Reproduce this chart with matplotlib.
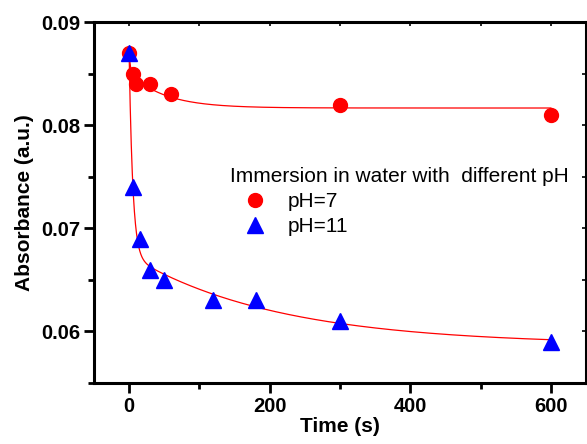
import numpy as np
import matplotlib.pyplot as plt
from matplotlib.ticker import MultipleLocator

plt.rcParams['font.family'] = ['Liberation Sans', 'DejaVu Sans']

# ---- data ----
T_PH7 = [0, 5, 10, 30, 60, 300, 600]
A_PH7 = [0.087, 0.085, 0.084, 0.084, 0.083, 0.082, 0.081]

T_PH11 = [0, 5, 15, 30, 50, 120, 180, 300, 600]
A_PH11 = [0.087, 0.074, 0.069, 0.066, 0.065, 0.063, 0.063, 0.061, 0.059]

LEGEND_TITLE = "Immersion in water with  different pH"
LABELS = ["pH=7", "pH=11"]


def fit_two_exp(t, y, tau1_grid, tau2_grid):
    # y = y0 + A1*exp(-t/tau1) + A2*exp(-t/tau2), taus by grid search
    t = np.asarray(t, float)
    y = np.asarray(y, float)
    best = None
    for t1 in tau1_grid:
        for t2 in tau2_grid:
            M = np.column_stack([np.ones_like(t), np.exp(-t / t1), np.exp(-t / t2)])
            coef, *_ = np.linalg.lstsq(M, y, rcond=None)
            if coef[1] < 0 or coef[2] < 0:
                continue
            err = np.sum((M @ coef - y) ** 2)
            if best is None or err < best[0]:
                best = (err, t1, t2, coef)
    _, t1, t2, c = best
    return lambda x: c[0] + c[1] * np.exp(-x / t1) + c[2] * np.exp(-x / t2)


fit7 = fit_two_exp(T_PH7, A_PH7, np.linspace(1, 8, 30), np.linspace(25, 50, 30))
fit11 = fit_two_exp(T_PH11, A_PH11, np.linspace(1, 10, 40), np.linspace(50, 600, 80))

fig = plt.figure(figsize=(5.87, 4.44), dpi=100)
ax = fig.add_axes([94 / 587, 1 - 383 / 444, 492 / 587, 361 / 444])

tt = np.linspace(0, 600, 1201)
ax.plot(tt, fit7(tt), color='red', lw=0.9, zorder=1)
ax.plot(tt, fit11(tt), color='red', lw=0.9, zorder=1)

ax.plot(T_PH7, A_PH7, 'o', color='red', ms=10, mec='red', label=LABELS[0], zorder=3)
ax.plot(T_PH11, A_PH11, '^', color='blue', ms=12, mec='blue', label=LABELS[1], zorder=3)

ax.set_xlim(-50, 650)
ax.set_ylim(0.055, 0.09)
ax.xaxis.set_major_locator(MultipleLocator(200))
ax.xaxis.set_minor_locator(MultipleLocator(100))
ax.yaxis.set_major_locator(MultipleLocator(0.01))
ax.yaxis.set_minor_locator(MultipleLocator(0.005))
ax.set_yticks([0.06, 0.07, 0.08, 0.09])
ax.set_xticks([0, 200, 400, 600])

for s in ax.spines.values():
    s.set_linewidth(2.2)

ax.tick_params(which='major', direction='out', length=7, width=2, labelsize=14.5, pad=3)
ax.tick_params(which='minor', direction='out', length=4, width=2)
for lab in ax.get_xticklabels() + ax.get_yticklabels():
    lab.set_fontweight('bold')

# inward ticks on top and right, no labels
axt = ax.secondary_xaxis('top')
axt.xaxis.set_major_locator(MultipleLocator(200))
axt.xaxis.set_minor_locator(MultipleLocator(100))
axt.tick_params(which='both', direction='in', length=3, width=1.2, labeltop=False)
axr = ax.secondary_yaxis('right')
axr.yaxis.set_major_locator(MultipleLocator(0.01))
axr.yaxis.set_minor_locator(MultipleLocator(0.005))
axr.tick_params(which='both', direction='in', length=3, width=1.2, labelright=False)

ax.set_xlabel("Time (s)", fontsize=15, fontweight='bold', labelpad=1)
ax.set_ylabel("Absorbance (a.u.)", fontsize=15, fontweight='bold', labelpad=5)

leg = ax.legend(title=LEGEND_TITLE, loc='upper left', bbox_to_anchor=(0.256, 0.628),
                frameon=False, fontsize=15, title_fontsize=15,
                handletextpad=0.36, labelspacing=0.3, borderpad=0, handlelength=2.4)
leg._legend_box.align = 'left'

fig.savefig('out.png', dpi=100)
